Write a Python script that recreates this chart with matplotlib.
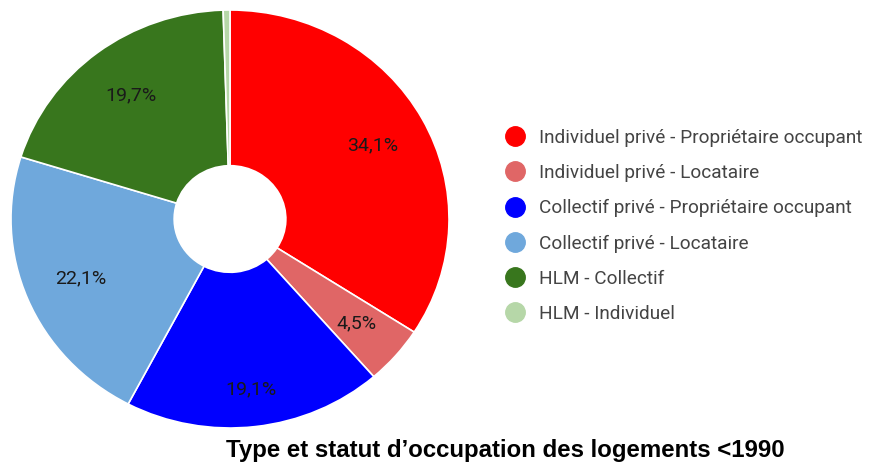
import numpy as np
import matplotlib.pyplot as plt
from matplotlib.lines import Line2D

categories = ["Individuel privé - Propriétaire occupant",
              "Individuel privé - Locataire",
              "Collectif privé - Propriétaire occupant",
              "Collectif privé - Locataire",
              "HLM - Collectif",
              "HLM - Individuel"]
values = [34.1, 4.5, 19.1, 22.1, 19.7, 0.5]
colors = ["#ff0000", "#e06666", "#0000ff", "#6fa8dc", "#38761d", "#b6d7a8"]
title = "Type et statut d’occupation des logements <1990"

# distance of each percentage label from the centre (fraction of radius)
label_dist = [0.74, 0.765, 0.82, 0.74, 0.745, 0.74]

W, H = 870, 463
fig = plt.figure(figsize=(W / 100, H / 100), dpi=100)

# pie placed by pixels (slightly squashed like the source image)
left, right, top, bottom = 11, 449, 10, 428
ax = fig.add_axes([left / W, (H - bottom) / H, (right - left) / W, (bottom - top) / H])


def fmt(p):
    if p < 1:
        return ""
    return ("%.1f%%" % p).replace(".", ",")


wedges, texts, autotexts = ax.pie(values, colors=colors, startangle=90, counterclock=False,
                                  radius=1, autopct=fmt, pctdistance=0.74,
                                  wedgeprops=dict(width=0.745, edgecolor="white", linewidth=1.2),
                                  textprops=dict(fontsize=14, color="#1a1a1a", family="Roboto"))
for w, t, d in zip(wedges, autotexts, label_dist):
    ang = np.deg2rad((w.theta1 + w.theta2) / 2)
    t.set_position((d * np.cos(ang), d * np.sin(ang)))

ax.set_xlim(-1, 1)
ax.set_ylim(-1, 1)
ax.set_aspect("auto")
ax.axis("off")

handles = [Line2D([], [], marker="o", linestyle="", markersize=14,
                  markerfacecolor=c, markeredgecolor=c) for c in colors]
leg = fig.legend(handles, categories, loc="upper left",
                 bbox_to_anchor=(504 / W, 1 - 129 / H), frameon=False,
                 prop=dict(family="Roboto", size=13.7), labelspacing=0.9,
                 handletextpad=0.65, handlelength=1.2, borderaxespad=0,
                 borderpad=0)
for t in leg.get_texts():
    t.set_color("#444444")

fig.text(505 / W, 1 - 450 / H, title, ha="center", va="center",
         fontsize=17.3, fontweight="bold", family="Liberation Sans", color="#000000")

fig.savefig("out.png", dpi=100)
